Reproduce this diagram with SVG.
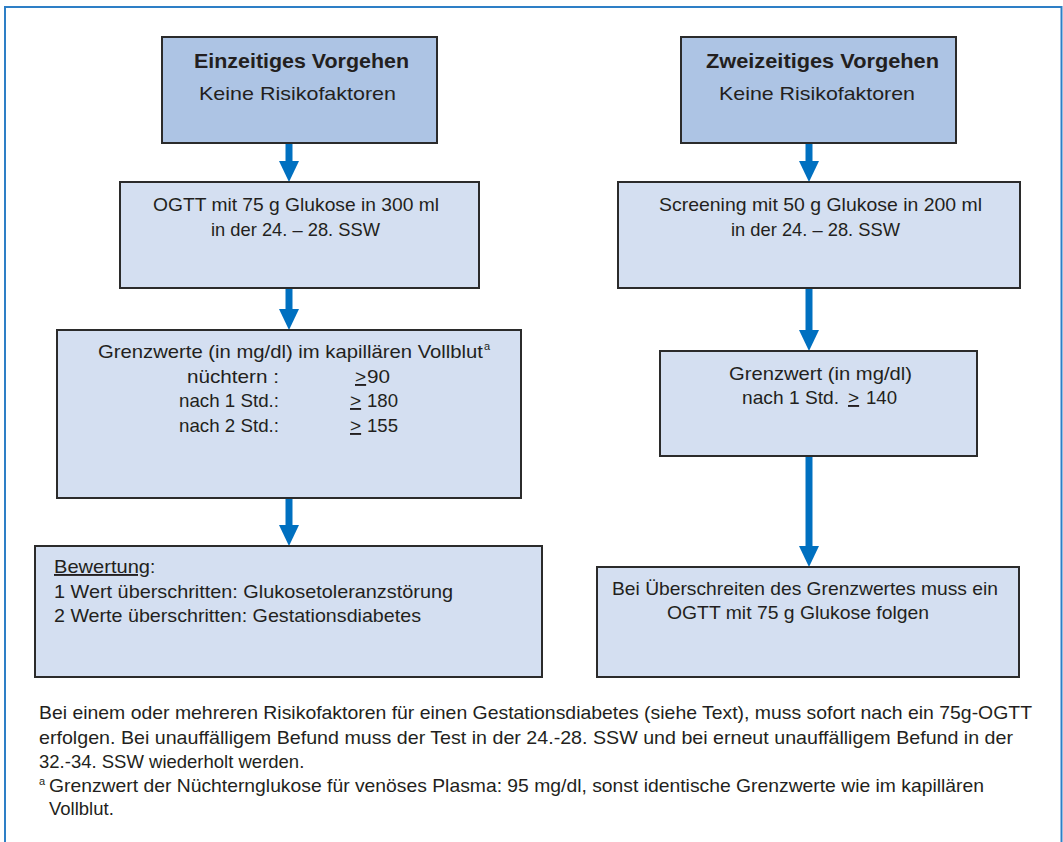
<svg xmlns="http://www.w3.org/2000/svg" width="1063" height="842" viewBox="0 0 1063 842">
  <style>
    .frame { fill: #ffffff; stroke: #2e7fc6; stroke-width: 2; }
    .head { fill: #adc4e4; stroke: #2b2b2b; stroke-width: 2; }
    .step { fill: #d4dff1; stroke: #2b2b2b; stroke-width: 2; }
    text { font-family: "Liberation Sans", Arial, sans-serif; fill: #231f20; }
    .t { font-size: 19px; }
    .b { font-size: 20px; font-weight: bold; }
    .f { font-size: 18.5px; }
    .sup { font-size: 11px; }
    .ul { text-decoration: underline; }
    .shaft { stroke: #0070c0; stroke-width: 7; fill: none; }
    .tip { fill: #0070c0; }
  </style>

  <rect class="frame" x="5" y="7" width="1056.5" height="850"/>

  <!-- connectors: shaft plus triangular head -->
  <g id="connectors">
    <path class="shaft" d="M289,143 V162"/>
    <path class="tip" d="M279,161 H299 L289,182 Z"/>
    <path class="shaft" d="M289,288 V310"/>
    <path class="tip" d="M279,309 H299 L289,330 Z"/>
    <path class="shaft" d="M289,498 V526"/>
    <path class="tip" d="M279,525 H299 L289,546 Z"/>

    <path class="shaft" d="M809,143 V162"/>
    <path class="tip" d="M799,161 H819 L809,182 Z"/>
    <path class="shaft" d="M809,288 V331"/>
    <path class="tip" d="M799,330 H819 L809,351 Z"/>
    <path class="shaft" d="M809,456 V547"/>
    <path class="tip" d="M799,546 H819 L809,567 Z"/>
  </g>

  <!-- left column: one-step procedure -->
  <g id="einzeitig">
    <rect class="head" x="162" y="37" width="275" height="106"/>
    <text class="b" x="194" y="68" textLength="215" lengthAdjust="spacingAndGlyphs">Einzeitiges Vorgehen</text>
    <text class="t" x="199" y="100" textLength="197" lengthAdjust="spacingAndGlyphs">Keine Risikofaktoren</text>
  </g>

  <g id="ogtt">
    <rect class="step" x="120" y="182" width="359" height="106"/>
    <text class="t" x="153" y="211" textLength="286" lengthAdjust="spacingAndGlyphs">OGTT mit 75 g Glukose in 300 ml</text>
    <text class="t" x="211" y="236" textLength="169" lengthAdjust="spacingAndGlyphs">in der 24. – 28. SSW</text>
  </g>

  <g id="grenzwerte">
    <rect class="step" x="57" y="330" width="464" height="168"/>
    <text class="t" x="98" y="358" textLength="385" lengthAdjust="spacingAndGlyphs">Grenzwerte (in mg/dl) im kapillären Vollblut</text>
    <text class="sup" x="484" y="350">a</text>
    <text class="t" x="187" y="383" textLength="92" lengthAdjust="spacingAndGlyphs">nüchtern  :</text>
    <text class="t ul" x="355" y="383">&gt;</text>
    <text class="t" x="367" y="383" textLength="23" lengthAdjust="spacingAndGlyphs">90</text>
    <text class="t" x="179" y="407" textLength="100" lengthAdjust="spacingAndGlyphs">nach 1 Std.:</text>
    <text class="t ul" x="350" y="407">&gt;</text>
    <text class="t" x="367" y="407" textLength="31" lengthAdjust="spacingAndGlyphs">180</text>
    <text class="t" x="179" y="432" textLength="100" lengthAdjust="spacingAndGlyphs">nach 2 Std.:</text>
    <text class="t ul" x="350" y="432">&gt;</text>
    <text class="t" x="367" y="432" textLength="31" lengthAdjust="spacingAndGlyphs">155</text>
  </g>

  <g id="bewertung">
    <rect class="step" x="35" y="546" width="507" height="131"/>
    <text class="t ul" x="54" y="573" textLength="96" lengthAdjust="spacingAndGlyphs">Bewertung</text>
    <text class="t" x="150" y="573">:</text>
    <text class="t" x="54" y="598" textLength="399" lengthAdjust="spacingAndGlyphs">1 Wert überschritten: Glukosetoleranzstörung</text>
    <text class="t" x="54" y="622" textLength="367" lengthAdjust="spacingAndGlyphs">2 Werte überschritten: Gestationsdiabetes</text>
  </g>

  <!-- right column: two-step procedure -->
  <g id="zweizeitig">
    <rect class="head" x="681" y="37" width="275" height="106"/>
    <text class="b" x="706" y="68" textLength="233" lengthAdjust="spacingAndGlyphs">Zweizeitiges Vorgehen</text>
    <text class="t" x="719" y="100" textLength="196" lengthAdjust="spacingAndGlyphs">Keine Risikofaktoren</text>
  </g>

  <g id="screening">
    <rect class="step" x="618" y="182" width="402" height="106"/>
    <text class="t" x="659" y="211" textLength="323" lengthAdjust="spacingAndGlyphs">Screening mit 50 g Glukose in 200 ml</text>
    <text class="t" x="731" y="236" textLength="169" lengthAdjust="spacingAndGlyphs">in der 24. – 28. SSW</text>
  </g>

  <g id="grenzwert">
    <rect class="step" x="660" y="351" width="317" height="105"/>
    <text class="t" x="729" y="380" textLength="183" lengthAdjust="spacingAndGlyphs">Grenzwert (in mg/dl)</text>
    <text class="t" x="742" y="404" textLength="97" lengthAdjust="spacingAndGlyphs">nach 1 Std.</text>
    <text class="t ul" x="848" y="404">&gt;</text>
    <text class="t" x="866" y="404" textLength="31" lengthAdjust="spacingAndGlyphs">140</text>
  </g>

  <g id="folge-ogtt">
    <rect class="step" x="597" y="567" width="422" height="110"/>
    <text class="t" x="612" y="595" textLength="386" lengthAdjust="spacingAndGlyphs">Bei Überschreiten des Grenzwertes muss ein</text>
    <text class="t" x="667" y="619" textLength="262" lengthAdjust="spacingAndGlyphs">OGTT mit 75 g Glukose folgen</text>
  </g>

  <!-- notes below the chart -->
  <g id="notes">
    <text class="f" x="39" y="719" textLength="993" lengthAdjust="spacingAndGlyphs">Bei einem oder mehreren Risikofaktoren für einen Gestationsdiabetes (siehe Text), muss sofort nach ein 75g-OGTT</text>
    <text class="f" x="39" y="744" textLength="974" lengthAdjust="spacingAndGlyphs">erfolgen. Bei unauffälligem Befund muss der Test in der 24.-28. SSW und bei erneut unauffälligem Befund in der</text>
    <text class="f" x="39" y="768">32.-34. SSW wiederholt werden.</text>
    <text class="sup" x="39" y="785">a</text>
    <text class="f" x="49" y="792" textLength="935" lengthAdjust="spacingAndGlyphs">Grenzwert der Nüchternglukose für venöses Plasma: 95 mg/dl, sonst identische Grenzwerte wie im kapillären</text>
    <text class="f" x="49" y="815">Vollblut.</text>
  </g>
</svg>
